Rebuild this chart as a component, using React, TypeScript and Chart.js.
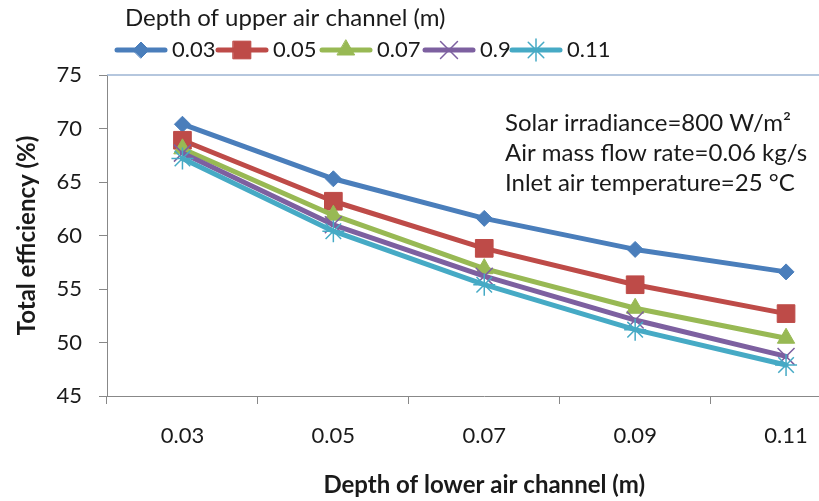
import React, { useEffect, useRef } from 'react';
import { Chart, registerables } from 'chart.js';
import { drawPoint } from 'chart.js/helpers';

Chart.register(...registerables);

const categories = ['0.03', '0.05', '0.07', '0.09', '0.11'];
const seriesNames = ['0.03', '0.05', '0.07', '0.9', '0.11'];
const s003 = [70.4, 65.3, 61.6, 58.7, 56.6];
const s005 = [68.9, 63.2, 58.8, 55.4, 52.7];
const s007 = [68.1, 61.9, 56.9, 53.2, 50.4];
const s09 = [67.7, 61.0, 56.2, 52.1, 48.7];
const s011 = [67.2, 60.4, 55.4, 51.2, 47.9];
const yMin = 45;
const yMax = 75;
const yStep = 5;
const legendTitle = 'Depth of upper air channel (m)';
const xTitle = 'Depth of lower air channel (m)';
const yTitle = 'Total efficiency (%)';
const annotationLines = [
  'Solar irradiance=800 W/m²',
  'Air mass flow rate=0.06 kg/s',
  'Inlet air temperature=25 °C',
];

const colors = ['#4A7EBB', '#BE4B48', '#98B954', '#7D60A0', '#46AAC5'];
const pointStyles = ['rectRot', 'rect', 'triangle', 'crossRot', 'star'];
const pointRadii = [8, 12.5, 10, 12, 11];
const pointBorders = [1, 1, 1, 1.5, 1.5];
const legendStarts = [117, 218, 322, 425, 512];
const FONT = 'Lato';
const TEXT = '#1a1a1a';

const overlay = {
  id: 'overlay',
  afterDraw(chart: any) {
    const ctx = chart.ctx;
    ctx.save();
    ctx.fillStyle = TEXT;
    ctx.textBaseline = 'middle';
    ctx.textAlign = 'left';
    ctx.font = `24px ${FONT}`;
    ctx.fillText(legendTitle, 125, 18);

    const ly = 50;
    chart.data.datasets.forEach((ds: any, i: number) => {
      const x = legendStarts[i];
      ctx.save();
      ctx.strokeStyle = ds.borderColor;
      ctx.lineWidth = 5;
      ctx.lineCap = 'round';
      ctx.beginPath();
      ctx.moveTo(x, ly);
      ctx.lineTo(x + 48, ly);
      ctx.stroke();
      ctx.fillStyle = ds.borderColor;
      ctx.strokeStyle = ds.borderColor;
      ctx.lineWidth = ds.pointBorderWidth;
      drawPoint(ctx, { pointStyle: ds.pointStyle, radius: ds.pointRadius, borderWidth: ds.pointBorderWidth, rotation: 0 } as any, x + 24, ly);
      ctx.restore();
      ctx.fillStyle = TEXT;
      ctx.font = `22px ${FONT}`;
      ctx.textBaseline = 'middle';
      ctx.fillText(ds.label, x + 55, ly);
    });

    ctx.font = `24px ${FONT}`;
    annotationLines.forEach((t, i) => {
      ctx.fillText(t, 505, 123 + i * 30);
    });

    const a = chart.chartArea;
    ctx.strokeStyle = '#9DB5D3';
    ctx.lineWidth = 1.5;
    ctx.beginPath();
    ctx.moveTo(a.left, a.top);
    ctx.lineTo(a.right, a.top);
    ctx.stroke();
    ctx.restore();
  },
};

export default function App() {
  const ref = useRef<HTMLCanvasElement>(null);
  useEffect(() => {
    if (!ref.current) return;
    const series = [s003, s005, s007, s09, s011];
    const chart = new Chart(ref.current, {
      type: 'line',
      data: {
        labels: categories,
        datasets: series.map((d, i) => ({
          label: seriesNames[i],
          data: d,
          borderColor: colors[i],
          backgroundColor: colors[i],
          pointBackgroundColor: colors[i],
          pointBorderColor: colors[i],
          pointStyle: pointStyles[i] as any,
          pointRadius: pointRadii[i],
          pointHoverRadius: pointRadii[i],
          pointBorderWidth: pointBorders[i],
          borderWidth: 5,
          borderJoinStyle: 'round' as any,
          borderCapStyle: 'round' as any,
          tension: 0,
          order: 5 - i,
        })),
      },
      options: {
        animation: false,
        responsive: false,
        layout: { padding: { top: 75, left: 0, right: 3, bottom: 0 } },
        plugins: { legend: { display: false }, tooltip: { enabled: false }, title: { display: false } },
        scales: {
          x: {
            type: 'category',
            offset: true,
            grid: { offset: true, drawOnChartArea: false, color: '#888', tickLength: 8 },
            border: { color: '#888', width: 1 },
            ticks: { color: TEXT, font: { family: FONT, size: 22 }, padding: 19, maxRotation: 0 },
            title: { display: true, text: xTitle, color: TEXT, font: { family: FONT, size: 24, weight: 'bold' }, padding: { top: 0, bottom: 1 } },
            afterFit: (s: any) => { s.height = 105; },
          },
          y: {
            min: yMin,
            max: yMax,
            ticks: { stepSize: yStep, color: TEXT, font: { family: FONT, size: 22 }, padding: 17 },
            grid: { drawOnChartArea: false, color: '#888', tickColor: '#888', tickLength: 8 },
            border: { color: '#888', width: 1 },
            title: { display: true, text: yTitle, color: TEXT, font: { family: FONT, size: 24, weight: 'bold' }, padding: { top: 13, bottom: 0 } },
            afterFit: (s: any) => { s.width = 107; },
          },
        },
      },
      plugins: [overlay],
    });
    return () => chart.destroy();
  }, []);
  return (
    <div style={{ position: 'fixed', left: 0, top: 0, width: 819, height: 501, overflow: 'hidden', background: '#fff' }}>
      <canvas ref={ref} width={875} height={501} style={{ display: 'block' }} />
    </div>
  );
}
